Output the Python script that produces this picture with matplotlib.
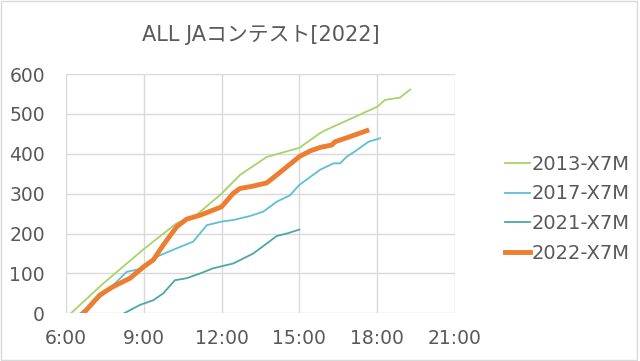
import matplotlib
matplotlib.use("Agg")
import matplotlib.pyplot as plt
from matplotlib.patches import Rectangle

# Latin glyphs from DejaVu (Verdana-like, close to Meiryo), kana from Noto CJK
plt.rcParams['font.family'] = ['DejaVu Sans', 'Noto Sans CJK JP']

# time in hours, cumulative QSO count
t2013 = [6.19, 7.44, 9.0, 10.27, 11.0, 12.0, 12.71, 13.74, 15.0, 15.8, 16.0, 18.0, 18.3, 18.88, 19.27]
v2013 = [0, 75, 161, 226, 245, 300, 347, 392, 415, 452, 459, 518, 535, 541, 561]

t2017 = [6.55, 7.3, 7.63, 8.34, 9.0, 9.5, 10.27, 10.91, 11.43, 12.0, 12.45, 13.1, 13.61, 14.13,
         14.64, 15.0, 15.8, 16.31, 16.57, 16.83, 17.21, 17.66, 18.11]
v2017 = [0, 40, 58, 104, 113, 142, 163, 180, 221, 230, 234, 244, 255, 280,
         296, 322, 360, 376, 376, 393, 409, 430, 439]

t2021 = [8.24, 8.85, 9.37, 9.75, 10.2, 10.65, 11.17, 11.68, 12.45, 13.22, 13.74, 14.13, 14.51, 15.0]
v2021 = [0, 21, 33, 50, 83, 88, 100, 113, 125, 150, 175, 194, 200, 210]

t2022 = [6.67, 7.31, 7.82, 8.47, 9.0, 9.37, 9.75, 10.27, 10.65, 11.17, 12.0, 12.45, 12.71, 13.22,
         13.74, 14.13, 15.0, 15.41, 15.8, 16.25, 16.37, 16.95, 17.6]
v2022 = [0, 46, 67, 88, 117, 134, 171, 217, 236, 246, 267, 301, 313, 319,
         327, 347, 393, 407, 416, 422, 430, 443, 458]

hour_ticks = [6, 9, 12, 15, 18, 21]
tick_labels = [f"{h}:00" for h in hour_ticks]

fig = plt.figure(figsize=(6.4, 3.61), dpi=100)
ax = fig.add_axes([0.103, 0.132, 0.608, 0.663])

ax.plot(t2013, v2013, color='#a5d46a', lw=1.3, label='2013-X7M')
ax.plot(t2017, v2017, color='#5dbfd6', lw=1.3, label='2017-X7M')
ax.plot(t2021, v2021, color='#4aa8a8', lw=1.3, label='2021-X7M')
ax.plot(t2022, v2022, color='#ed7d31', lw=3.5, label='2022-X7M')

ax.set_xlim(6, 21)
ax.set_ylim(0, 600)
ax.set_xticks(hour_ticks)
ax.set_xticklabels(tick_labels)
ax.set_yticks(range(0, 601, 100))
ax.grid(True, color='#d9d9d9', lw=1)
ax.set_axisbelow(True)
for s in ax.spines.values():
    s.set_visible(False)
ax.tick_params(length=0, labelsize=13.5, colors='#595959')
ax.tick_params(axis='y', pad=15)
ax.tick_params(axis='x', pad=11)

# title centred over the plot area
fig.text(0.407, 0.903, 'ALL JAコンテスト[2022]', ha='center', va='center',
         fontsize=15, color='#595959')

leg = fig.legend(loc='center left', bbox_to_anchor=(0.762, 0.422), frameon=False,
                 fontsize=14, handlelength=1.3, handletextpad=0.05, labelspacing=0.55)
for txt in leg.get_texts():
    txt.set_color('#595959')

fig.patches.append(Rectangle((0.001, 0.002), 0.995, 0.995, transform=fig.transFigure,
                             fill=False, edgecolor='#d9d9d9', lw=1))

fig.savefig('out.png', dpi=100)
